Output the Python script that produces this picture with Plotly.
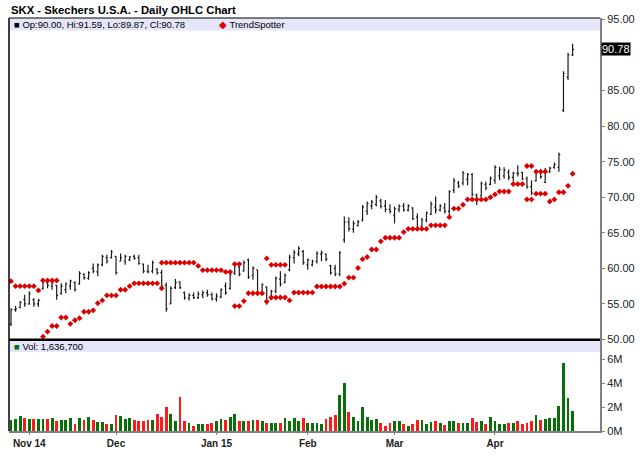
import pandas as pd
import plotly.graph_objects as go

# trading days shown on the chart (Oct 28 2014 - Apr 27 2015)
holidays = ['2014-11-27', '2014-12-25', '2015-01-01', '2015-01-19', '2015-02-16', '2015-04-03']
dates = [d.strftime('%Y-%m-%d') for d in pd.bdate_range('2014-10-28', '2015-04-27')
         if d.strftime('%Y-%m-%d') not in holidays]

month_ticks = ['2014-11-03', '2014-12-01', '2015-01-02', '2015-02-02', '2015-03-02', '2015-04-01']
month_labels = ['Nov 14', 'Dec', 'Jan 15', 'Feb', 'Mar', 'Apr']

price_ticks = [50, 55, 60, 65, 70, 75, 80, 85, 90, 95]
vol_ticks = [0, 2, 4, 6]

op = [52.2, 54.2, 54.5, 55.6, 55.0, 55.6, 55.0, 57.2, 58.0, 57.5,
      57.6, 56.5, 57.0, 57.5, 58.0, 57.8, 59.2, 58.6, 60.0, 59.5,
      60.5, 61.5, 61.5, 61.7, 61.0, 61.0, 61.2, 61.7, 61.5, 60.6,
      59.6, 59.6, 59.9, 59.4, 57.6, 55.0, 57.3, 58.1, 56.6, 55.8,
      56.2, 55.9, 56.3, 56.6, 56.3, 55.7, 56.0, 57.5, 57.2, 59.3,
      60.2, 59.6, 61.2, 59.0, 59.8, 56.6, 57.4, 55.7, 56.8, 58.5,
      58.0, 59.8, 61.5, 62.0, 62.4, 60.5, 60.5, 61.0, 62.0, 62.0,
      60.4, 60.0, 59.2, 64.0, 66.5, 65.5, 66.0, 66.8, 68.0, 68.8,
      69.0, 69.5, 68.8, 68.3, 67.5, 68.3, 68.8, 68.2, 68.5, 67.2,
      65.9, 66.8, 67.6, 68.6, 68.2, 68.5, 68.0, 71.0, 72.0, 72.0,
      72.5, 73.2, 70.3, 70.2, 71.8, 71.8, 72.4, 73.0, 73.0, 73.5,
      72.8, 73.4, 73.5, 72.6, 71.5, 72.3, 73.7, 72.1, 73.6, 74.2,
      74.2, 82.2, 86.9, 90.00]
hi = [54.4, 54.7, 55.4, 56.3, 56.8, 55.8, 55.7, 58.4, 58.4, 58.2,
      57.7, 57.9, 58.0, 58.4, 58.2, 59.6, 59.3, 59.6, 60.7, 60.7,
      61.9, 61.9, 62.6, 61.7, 62.1, 61.9, 61.75, 61.9, 61.9, 60.7,
      60.5, 61.1, 60.0, 59.8, 58.0, 57.5, 58.5, 58.2, 56.75, 56.5,
      56.6, 56.75, 56.9, 57.0, 56.6, 56.5, 57.2, 58.0, 59.4, 60.7,
      60.3, 61.1, 61.4, 60.3, 59.8, 57.9, 57.45, 57.0, 58.85, 59.6,
      59.3, 61.9, 62.6, 63.1, 62.6, 61.4, 61.2, 62.4, 62.5, 62.1,
      60.5, 60.5, 62.4, 67.3, 67.2, 66.7, 66.8, 68.9, 69.4, 69.6,
      70.3, 69.8, 69.6, 69.0, 68.7, 69.0, 69.2, 69.0, 68.6, 67.7,
      67.1, 68.0, 69.4, 70.1, 69.0, 69.2, 71.0, 72.7, 72.3, 73.7,
      73.4, 73.4, 70.5, 72.2, 72.2, 72.9, 74.5, 74.3, 74.2, 73.9,
      73.6, 74.5, 73.6, 72.9, 72.4, 73.9, 73.9, 74.1, 74.3, 74.9,
      76.3, 87.7, 90.3, 91.59]
lo = [51.9, 53.9, 54.4, 54.6, 54.9, 54.6, 54.6, 57.0, 57.2, 57.0,
      55.6, 56.3, 56.5, 57.0, 56.75, 57.7, 58.4, 58.4, 59.3, 58.9,
      60.3, 60.7, 61.4, 59.1, 61.0, 60.5, 61.0, 61.2, 60.5, 59.3,
      59.3, 59.3, 59.1, 57.2, 53.9, 55.0, 57.1, 57.1, 55.6, 55.5,
      55.7, 55.7, 55.8, 56.0, 55.5, 55.35, 55.8, 56.3, 57.0, 59.1,
      58.9, 59.6, 58.5, 58.4, 56.3, 56.3, 54.9, 55.6, 56.5, 57.45,
      57.9, 59.6, 60.7, 61.7, 60.5, 59.8, 60.3, 60.7, 61.0, 61.0,
      59.1, 58.9, 58.9, 63.6, 65.2, 65.0, 65.9, 66.6, 67.5, 68.3,
      68.7, 68.4, 67.9, 67.7, 66.3, 67.9, 68.0, 68.0, 66.8, 65.5,
      65.6, 66.5, 67.5, 67.7, 68.0, 67.7, 67.5, 70.6, 71.3, 71.7,
      71.7, 70.1, 68.9, 70.1, 71.0, 71.7, 71.9, 72.4, 72.6, 72.4,
      72.2, 72.9, 72.4, 71.2, 70.3, 72.2, 72.6, 72.0, 73.4, 74.0,
      73.6, 82.0, 86.5, 89.87]
cl = [54.2, 54.3, 55.2, 55.0, 56.4, 55.0, 55.5, 58.2, 57.6, 58.0,
      56.2, 57.5, 57.8, 58.2, 57.0, 59.3, 58.7, 59.4, 59.6, 60.5,
      61.7, 61.0, 62.3, 59.4, 61.5, 61.7, 61.6, 61.4, 60.7, 59.6,
      59.5, 60.8, 59.4, 57.5, 54.3, 57.2, 58.0, 57.3, 55.9, 56.2,
      55.9, 56.4, 56.6, 56.3, 55.7, 56.1, 57.0, 56.6, 59.1, 60.5,
      59.2, 60.8, 58.8, 60.0, 56.6, 57.7, 55.2, 56.8, 58.6, 57.8,
      59.0, 61.6, 62.2, 62.8, 60.8, 61.2, 61.0, 62.1, 62.2, 61.3,
      59.4, 59.2, 62.2, 66.5, 65.6, 66.3, 66.5, 68.6, 69.1, 69.3,
      70.0, 68.7, 68.3, 68.0, 68.4, 68.7, 68.2, 68.8, 67.0, 65.8,
      66.8, 67.8, 69.0, 68.2, 68.8, 68.0, 70.8, 72.3, 71.6, 73.4,
      73.2, 70.4, 69.6, 71.9, 71.3, 72.7, 74.2, 73.9, 73.8, 72.8,
      73.4, 73.3, 72.6, 71.5, 70.6, 73.7, 72.9, 73.8, 74.1, 74.6,
      76.0, 87.4, 90.0, 90.78]

# volume in millions of shares, and whether the day closed up (1) or down (0)
vol = [0.90, 0.97, 1.25, 1.05, 1.00, 1.00, 1.00, 1.00, 1.00, 1.10, 0.80, 0.95,
       0.90, 1.10, 0.60, 1.10, 0.90, 1.15, 0.95, 0.75, 0.75, 0.55, 0.55,
       1.35, 1.25, 1.00, 1.05, 0.90, 0.80, 0.85, 0.90, 0.90, 1.40, 1.15, 2.00,
       1.40, 0.80, 2.85, 0.85, 0.65, 0.40, 0.55, 0.55, 0.55, 0.65,
       0.80, 1.00, 0.95, 1.15, 1.40, 0.80, 0.80, 0.85, 0.90, 0.90, 0.80, 0.70,
       0.70, 0.70, 0.70, 1.05, 0.85, 1.10, 0.80, 1.05,
       0.65, 0.70, 0.70, 0.55, 1.00, 1.15, 1.30, 3.00, 4.00, 1.55, 1.15, 0.80,
       2.00, 1.20, 0.90, 1.00, 0.65, 0.40, 0.65,
       0.80, 0.80, 0.60, 0.40, 0.55, 0.88, 0.95, 0.60, 0.75, 0.80, 0.65, 0.50,
       0.85, 0.85, 0.65, 0.65, 0.65, 1.05, 0.75, 0.85, 0.55, 1.15,
       0.85, 0.55, 0.55, 0.65, 0.65, 0.85, 0.60, 0.65, 0.80, 1.30, 0.95, 1.00,
       1.10, 1.05, 2.10, 5.70, 2.75, 1.6367]
vol_up = [1, 1, 1, 0, 1, 0, 1, 1, 0, 1, 0, 1, 1, 1, 0, 1, 0, 1, 0, 1, 1, 0, 1,
          0, 1, 1, 1, 0, 0, 0, 0, 1, 0, 0, 0, 1, 1, 0, 0, 1, 0, 1, 1, 0, 0,
          1, 1, 0, 1, 1, 0, 1, 0, 1, 0, 1, 0, 1, 1, 0, 1, 1, 1, 1, 0,
          1, 1, 1, 1, 0, 0, 0, 1, 1, 0, 1, 1, 1, 1, 1, 1, 0, 0, 0,
          1, 1, 0, 1, 0, 0, 1, 1, 1, 0, 1, 0, 1, 1, 0, 1, 1, 0, 0, 1, 0, 1,
          1, 1, 1, 0, 1, 0, 0, 0, 0, 1, 0, 1, 1, 1, 1, 1, 1, 1]

# TrendSpotter dots, above and below the bars (None = no dot that day)
N = None
ts_upper = [58.2, 57.5, 57.5, 57.5, 57.5, 57.5, 56.9, 58.3, 58.3, 58.3,
            58.3, N, N, N, N, N, N, N, N, N,
            N, N, N, N, N, N, N, N, N, N,
            N, N, N, 60.8, 60.8, 60.8, 60.8, 60.8, 60.8, 60.8,
            60.8, 60.35, 59.75, 59.75, 59.75, 59.75, 59.75, 59.5, 59.5, 60.6,
            60.6, N, N, N, N, N, 61.4, 60.5, 60.5, 60.5,
            60.5, N, N, N, N, N, N, N, N, N,
            N, N, N, N, N, N, N, N, N, N,
            N, N, N, N, N, N, N, N, N, N,
            N, N, N, N, N, N, N, N, N, N,
            N, N, N, N, N, N, N, N, N, N,
            N, N, N, 74.4, 74.4, 73.6, 73.6, 73.6, N, N,
            N, N, N, N]
ts_lower = [N, N, N, N, N, N, N, 50.4, 51.1, 51.9,
            51.9, 53.1, 53.1, 52.2, 52.7, 53.0, 53.9, 53.9, 54.1, 55.1,
            55.5, 56.2, 56.2, 56.2, 57.0, 57.0, 57.5, 57.9, 57.9, 57.9,
            57.9, 57.9, 57.9, 57.2, N, N, N, N, N, N,
            N, N, N, N, N, N, N, N, N, 54.7,
            54.7, 55.4, 56.5, 56.5, 56.5, 56.5, 55.35, 55.9, 55.9, 55.9,
            55.9, 55.5, 56.6, 56.6, 56.6, 56.6, 56.6, 57.45, 57.45, 57.45,
            57.45, 57.45, 57.45, 57.85, 58.7, 58.7, 60.05, 61.3, 61.6, 62.65,
            62.65, 63.8, 64.3, 64.3, 64.3, 64.3, 65.1, 65.55, 65.55, 65.55,
            65.55, 65.55, 66.05, 66.05, 66.05, 66.05, 67.2, 68.4, 68.4, 68.95,
            69.7, 69.7, 69.7, 69.7, 69.7, 70.0, 70.4, 70.8, 70.8, 70.8,
            71.85, 71.85, 71.85, 69.7, 69.7, 70.5, 70.5, 70.5, 69.4, 69.7,
            70.7, 70.7, 71.6, 73.3]

FONT = 'Liberation Sans, Arial, sans-serif'
PH = 413.0  # plot height in px (468 - top 18 - bottom 37)
vol_top = 91 / PH
main_bot = 91.5 / PH

fig = go.Figure()

fig.add_trace(go.Bar(
    x=dates, y=vol, width=0.62,
    marker_color=['#087008' if u else '#FF1A1A' for u in vol_up],
    marker_line_width=0, xaxis='x', yaxis='y'))

fig.add_trace(go.Ohlc(
    x=dates, open=op, high=hi, low=lo, close=cl,
    increasing_line_color='#1a1a1a', decreasing_line_color='#1a1a1a',
    line_width=1.2, tickwidth=0.3, xaxis='x2', yaxis='y2'))

for ts in (ts_upper, ts_lower):
    fig.add_trace(go.Scatter(
        x=dates, y=ts, mode='markers', xaxis='x2', yaxis='y2',
        marker=dict(symbol='diamond', size=4.5, color='#DD0000', line_width=0)))

xr = [-0.44, 129.0]
fig.update_layout(
    width=640, height=468,
    margin=dict(l=9, r=40, t=18, b=37, autoexpand=False),
    paper_bgcolor='white', plot_bgcolor='white',
    showlegend=False, bargap=0,
    font=dict(family=FONT, size=11, color='#222222'),
    xaxis=dict(type='category', range=xr, anchor='y', domain=[0, 1], automargin=False,
               tickvals=month_ticks, ticktext=month_labels,
               tickfont=dict(size=10, weight='bold', color='#222222'),
               ticks='outside', ticklen=2, tickcolor='#808080',
               showline=True, linecolor='#808080', linewidth=2,
               showgrid=False, zeroline=False, rangeslider=dict(visible=False)),
    xaxis2=dict(type='category', range=xr, anchor='y2', matches='x', automargin=False,
                showticklabels=False, ticks='', showline=False,
                showgrid=False, zeroline=False, rangeslider=dict(visible=False)),
    yaxis=dict(domain=[0, vol_top], range=[0, 91 / 12], side='right', automargin=False,
               tickvals=vol_ticks, ticktext=[f'{v}M' for v in vol_ticks],
               ticks='outside', ticklen=3, tickcolor='#808080',
               showline=True, linecolor='#808080', linewidth=2,
               showgrid=False, zeroline=False, tickfont=dict(size=11)),
    yaxis2=dict(domain=[main_bot, 1], range=[50, 95.2], side='right', anchor='x2',
                automargin=False, tickvals=price_ticks,
                ticktext=['' if v == 90 else f'{v:.2f}' for v in price_ticks],
                ticks='outside', ticklen=3, tickcolor='#808080',
                showline=True, linecolor='#808080', linewidth=2,
                showgrid=False, zeroline=False, tickfont=dict(size=11)),
)

# legend bands and panel frame
fig.add_shape(type='rect', xref='paper', yref='paper', x0=0, x1=1,
              y0=1 - 12.5 / PH, y1=1, fillcolor='#E6E6FA', line_width=0, layer='below')
fig.add_shape(type='rect', xref='paper', yref='paper', x0=0, x1=1,
              y0=vol_top - 12 / PH, y1=vol_top, fillcolor='#E6E6FA', line_width=0, layer='below')
fig.add_shape(type='line', xref='paper', yref='paper', x0=0, x1=1, y0=1, y1=1,
              line=dict(color='black', width=1))
fig.add_shape(type='line', xref='paper', yref='paper', x0=0, x1=0, y0=0, y1=1,
              line=dict(color='black', width=1.5))
fig.add_shape(type='line', xref='paper', yref='paper', x0=0, x1=1,
              y0=(main_bot + vol_top) / 2, y1=(main_bot + vol_top) / 2,
              line=dict(color='black', width=2.5))

ohlc_txt = f'Op:{op[-1]:.2f}, Hi:{hi[-1]:.2f}, Lo:{lo[-1]:.2f}, Cl:{cl[-1]:.2f}'
fig.add_annotation(xref='paper', yref='paper', x=0.005, y=1 - 6.5 / PH,
                   xanchor='left', yanchor='middle', showarrow=False,
                   text='■ ' + ohlc_txt, font=dict(size=9.5, color='black'))
fig.add_annotation(xref='paper', yref='paper', x=0.352, y=1 - 6.5 / PH,
                   xanchor='left', yanchor='middle', showarrow=False,
                   text="<span style='color:#DD0000'>◆</span> TrendSpotter",
                   font=dict(size=9.5, color='black'))
fig.add_annotation(xref='paper', yref='paper', x=0.005, y=vol_top - 6 / PH,
                   xanchor='left', yanchor='middle', showarrow=False,
                   text=f"<span style='color:#087008'>■</span> Vol: {vol[-1] * 1e6:,.0f}",
                   font=dict(size=9.5, color='black'))
fig.add_annotation(xref='paper', yref='y2', x=1, y=cl[-1], xanchor='left', xshift=1,
                   showarrow=False, text=f'{cl[-1]:.2f}', bgcolor='black',
                   font=dict(size=11, color='white'), borderpad=0)
fig.add_annotation(xref='paper', yref='paper', x=0.0, y=1 + 8 / PH,
                   xanchor='left', yanchor='middle', showarrow=False,
                   text='<b>SKX - Skechers U.S.A. - Daily OHLC Chart</b>',
                   font=dict(size=11.3, color='black'))

# drop the browser's default 8px page margin so the figure fills the window
fig.write_html('out.html', config={'displayModeBar': False},
               post_script="document.body.style.margin = '0';")
